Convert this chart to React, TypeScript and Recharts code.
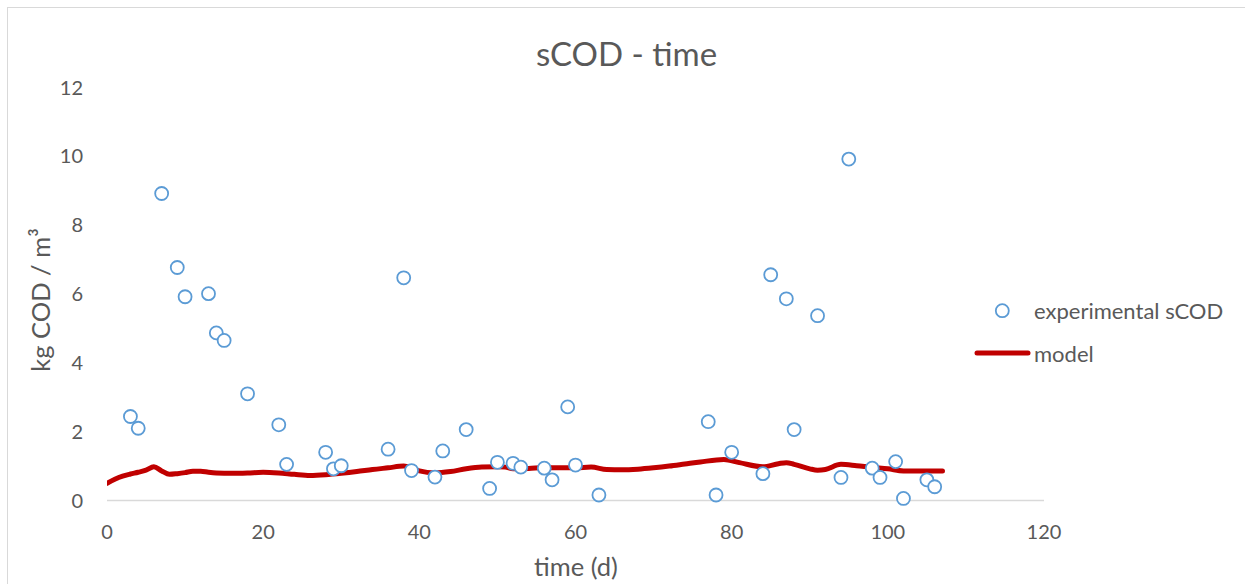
import React from 'react';
import { ComposedChart, Line, Scatter, XAxis, YAxis } from 'recharts';

const expDays = [3, 4, 7, 9, 10, 13, 14, 15, 18, 22, 23, 28, 29, 30, 36, 38, 39, 42, 43, 46, 49, 50, 52, 53, 56, 57, 59, 60, 63, 77, 78, 80, 84, 85, 87, 88, 91, 94, 95, 98, 99, 101, 102, 105, 106];
const expValues = [2.44, 2.1, 8.92, 6.77, 5.92, 6.01, 4.87, 4.65, 3.1, 2.2, 1.05, 1.4, 0.92, 1.01, 1.49, 6.47, 0.87, 0.68, 1.44, 2.06, 0.35, 1.11, 1.08, 0.97, 0.94, 0.6, 2.72, 1.03, 0.16, 2.29, 0.16, 1.4, 0.78, 6.56, 5.86, 2.06, 5.37, 0.67, 9.92, 0.94, 0.67, 1.13, 0.06, 0.6, 0.4];

const modelDays = [0, 1, 2, 3, 4, 5, 6, 7, 8, 9, 10, 11, 12, 13, 14, 16, 18, 20, 22, 24, 26, 28, 30, 32, 34, 36, 38, 39, 40, 42, 44, 46, 48, 50, 51, 52, 54, 56, 58, 60, 62, 64, 66, 68, 70, 72, 74, 76, 79, 81, 84, 86, 87, 88, 90, 91, 92, 94, 96, 98, 100, 102, 104, 107];
const modelValues = [0.5, 0.62, 0.71, 0.77, 0.82, 0.88, 0.98, 0.86, 0.76, 0.78, 0.81, 0.85, 0.85, 0.82, 0.8, 0.79, 0.8, 0.82, 0.8, 0.76, 0.73, 0.75, 0.79, 0.84, 0.9, 0.95, 1.0, 0.95, 0.86, 0.8, 0.84, 0.92, 0.97, 0.98, 0.97, 0.92, 0.93, 0.96, 0.95, 0.95, 0.97, 0.9, 0.89, 0.91, 0.95, 1.0, 1.06, 1.12, 1.19, 1.1, 0.98, 1.07, 1.1, 1.05, 0.92, 0.88, 0.9, 1.05, 1.01, 0.96, 0.92, 0.86, 0.86, 0.86];

const xTicks = [0, 20, 40, 60, 80, 100, 120];
const yTicks = [0, 2, 4, 6, 8, 10, 12];

const title = 'sCOD - time';
const xLabel = 'time (d)';
const yLabel = 'kg COD / m³';
const legendExp = 'experimental sCOD';
const legendModel = 'model';

const expData = expDays.map((d, i) => ({ x: d, y: expValues[i] }));
const modelData = modelDays.map((d, i) => ({ x: d, y: modelValues[i] }));

const FONT = 'Lato, "Open Sans", sans-serif';
const TEXT = '#595959';
const BLUE = '#5B9BD5';
const RED = '#C00000';

export default function App() {
  return (
    <div
      style={{
        position: 'absolute',
        left: 7,
        top: 7,
        width: 1238,
        height: 577,
        borderTop: '1px solid #d9d9d9',
        borderLeft: '1px solid #d9d9d9',
        boxSizing: 'border-box',
        background: '#fff',
      }}
    >
      <ComposedChart
        width={1237}
        height={576}
        margin={{ top: 79.5, right: 201, bottom: 43.5, left: 39 }}
        style={{ fontFamily: FONT }}
      >
        <XAxis
          type="number"
          dataKey="x"
          domain={[0, 120]}
          ticks={xTicks}
          allowDataOverflow
          height={40}
          tickLine={false}
          tickSize={0}
          tickMargin={24}
          axisLine={{ stroke: '#d9d9d9', strokeWidth: 1.3 }}
          tick={{ fill: TEXT, fontSize: 20, fontFamily: FONT }}
        />
        <YAxis
          type="number"
          dataKey="y"
          domain={[0, 12]}
          ticks={yTicks}
          width={60}
          axisLine={false}
          tickLine={false}
          tickSize={0}
          tickMargin={24}
          tick={{ fill: TEXT, fontSize: 20, fontFamily: FONT }}
        />
        <Line
          data={modelData}
          dataKey="y"
          type="monotone"
          stroke={RED}
          strokeWidth={5}
          dot={false}
          activeDot={false}
          isAnimationActive={false}
          strokeLinecap="round"
          strokeLinejoin="round"
        />
        <Scatter
          data={expData}
          dataKey="y"
          isAnimationActive={false}
          shape={(p: any) => (
            <circle cx={p.cx} cy={p.cy} r={6.5} fill="#fff" stroke={BLUE} strokeWidth={1.8} />
          )}
        />
        <text x={618.5} y={45} textAnchor="middle" dominantBaseline="central" fill={TEXT} fontSize={33} fontFamily={FONT}>
          {title}
        </text>
        <text x={568} y={558} textAnchor="middle" dominantBaseline="central" fill={TEXT} fontSize={25.5} fontFamily={FONT}>
          {xLabel}
        </text>
        <text
          x={32}
          y={292}
          textAnchor="middle"
          dominantBaseline="central"
          fill={TEXT}
          fontSize={25.5}
          fontFamily={FONT}
          transform="rotate(-90 32 292)"
        >
          {yLabel}
        </text>
        <circle cx={994.3} cy={302.7} r={6.5} fill="#fff" stroke={BLUE} strokeWidth={1.8} />
        <text x={1026} y={302.5} dominantBaseline="central" fill={TEXT} fontSize={22} fontFamily={FONT}>
          {legendExp}
        </text>
        <line x1={969} y1={345} x2={1020} y2={345} stroke={RED} strokeWidth={5} strokeLinecap="round" />
        <text x={1026} y={345} dominantBaseline="central" fill={TEXT} fontSize={22} fontFamily={FONT}>
          {legendModel}
        </text>
      </ComposedChart>
    </div>
  );
}
